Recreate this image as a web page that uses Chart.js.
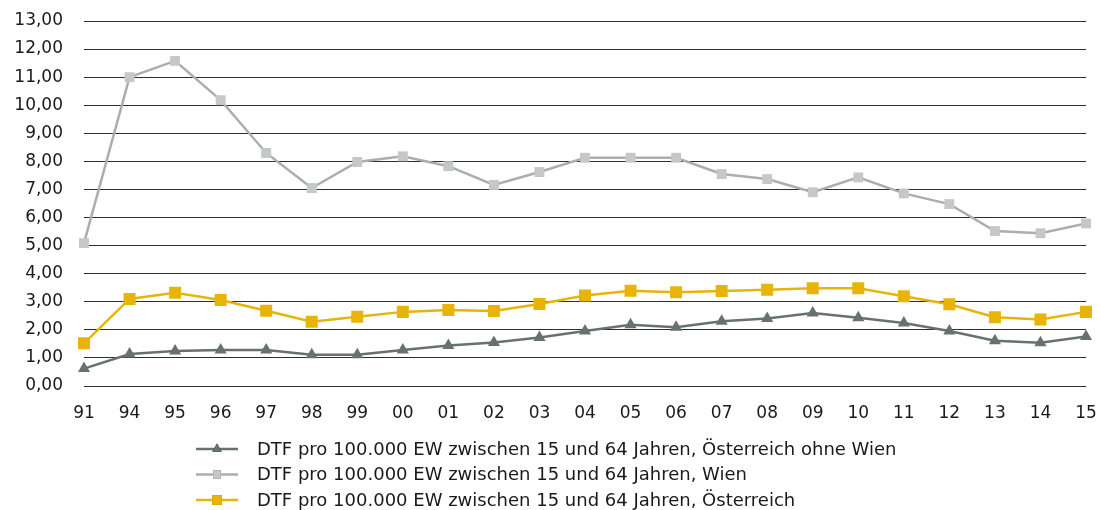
<!DOCTYPE html>
<html>
<head>
<meta charset="utf-8">
<script src="https://cdn.jsdelivr.net/npm/chart.js@4.4.0/dist/chart.umd.min.js"></script>
<style>
  body { margin: 0; background: #fff; }
  #wrap { width: 1101px; height: 510px; }
</style>
</head>
<body>
<div id="wrap"><canvas id="chart"></canvas></div>
<script>
const years = ['91','94','95','96','97','98','99','00','01','02','03','04','05','06','07','08','09','10','11','12','13','14','15'];

const ohneWien = [0.62,1.14,1.25,1.28,1.28,1.11,1.11,1.28,1.44,1.55,1.73,1.96,2.18,2.09,2.31,2.40,2.60,2.43,2.24,1.96,1.61,1.54,1.76];
const wien = [5.09,11.00,11.58,10.18,8.30,7.05,7.98,8.18,7.83,7.16,7.62,8.13,8.13,8.13,7.55,7.37,6.90,7.43,6.86,6.48,5.52,5.44,5.79];
const oesterreich = [1.52,3.10,3.32,3.06,2.68,2.29,2.47,2.64,2.71,2.67,2.92,3.22,3.39,3.34,3.38,3.43,3.48,3.48,3.20,2.91,2.45,2.37,2.64];

const labels = [
  'DTF pro 100.000 EW zwischen 15 und 64 Jahren, Österreich ohne Wien',
  'DTF pro 100.000 EW zwischen 15 und 64 Jahren, Wien',
  'DTF pro 100.000 EW zwischen 15 und 64 Jahren, Österreich'
];

const fontFamily = '"DejaVu Sans", sans-serif';

// legend drawn as a list under the axis: line + marker, then label
const listLegend = {
  id: 'listLegend',
  afterDraw(chart) {
    const ctx = chart.ctx;
    ctx.save();
    chart.data.datasets.forEach((ds, i) => {
      const y = 449 + i * 25.5;
      ctx.strokeStyle = ds.borderColor;
      ctx.lineWidth = 2.5;
      ctx.beginPath();
      ctx.moveTo(196, y);
      ctx.lineTo(238, y);
      ctx.stroke();
      Chart.helpers.drawPoint(ctx, {
        pointStyle: ds.pointStyle,
        radius: ds.pointRadius - 1.5,
        borderWidth: 0
      }, 217, y);
      ctx.fillStyle = ds.pointBackgroundColor;
      ctx.fill();
      ctx.fillStyle = '#1a1a1a';
      ctx.font = '18px ' + fontFamily;
      ctx.textBaseline = 'middle';
      ctx.fillText(ds.label, 257, y + 1);
    });
    ctx.restore();
  }
};

new Chart(document.getElementById('chart'), {
  type: 'line',
  data: {
    labels: years,
    datasets: [
      {
        label: labels[0],
        data: ohneWien,
        borderColor: '#68726c',
        backgroundColor: '#68726c',
        pointBackgroundColor: '#68726c',
        pointBorderWidth: 0,
        pointStyle: 'triangle',
        pointRadius: 7,
        borderWidth: 2.5,
        tension: 0
      },
      {
        label: labels[1],
        data: wien,
        borderColor: '#a9afab',
        backgroundColor: '#c4c9c6',
        pointBackgroundColor: '#c4c9c6',
        pointBorderWidth: 0,
        pointStyle: 'rect',
        pointRadius: 7,
        borderWidth: 2.5,
        tension: 0
      },
      {
        label: labels[2],
        data: oesterreich,
        borderColor: '#e8b40a',
        backgroundColor: '#e8b40a',
        pointBackgroundColor: '#e8b40a',
        pointBorderWidth: 0,
        pointStyle: 'rect',
        pointRadius: 8.5,
        borderWidth: 2.5,
        tension: 0
      }
    ]
  },
  options: {
    responsive: true,
    maintainAspectRatio: false,
    animation: false,
    layout: { padding: { top: 21, right: 15, bottom: 84, left: 0 } },
    plugins: {
      legend: { display: false },
      tooltip: { enabled: false }
    },
    scales: {
      x: {
        offset: false,
        grid: { display: false },
        border: { display: false },
        ticks: {
          color: '#1a1a1a',
          font: { family: fontFamily, size: 17 },
          padding: 9,
          maxRotation: 0,
          autoSkip: false
        },
        afterFit: (s) => {
          s.height = 40;
          s.paddingLeft = 0;
          s.paddingRight = 0;
        }
      },
      y: {
        min: 0,
        max: 13,
        grid: { color: '#2e2e2e', lineWidth: 1, drawTicks: false },
        border: { display: false },
        ticks: {
          stepSize: 1,
          color: '#1a1a1a',
          font: { family: fontFamily, size: 17 },
          padding: 21,
          callback: (v) => v.toFixed(2).replace('.', ',')
        },
        afterFit: (s) => {
          s.width = 84;
          s.paddingTop = 0;
          s.paddingBottom = 0;
        }
      }
    }
  },
  plugins: [listLegend]
});
</script>
</body>
</html>
